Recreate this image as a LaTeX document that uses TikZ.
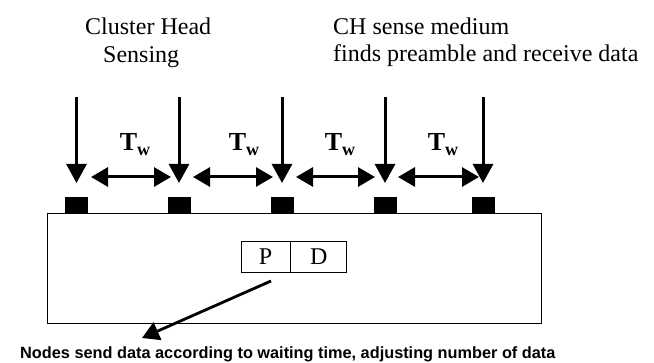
\documentclass[tikz,border=0pt]{standalone}
\usepackage{fontspec}
\setmainfont{Liberation Serif}
\newfontfamily\labelsans{Liberation Sans}
\usetikzlibrary{arrows.meta}
\begin{document}
\begin{tikzpicture}[x=1pt,y=-1pt,
  headtext/.style={font=\fontsize{24}{27}\selectfont,inner sep=0pt,anchor=base west},
  tick/.style={fill=black,draw=none,minimum width=23pt,minimum height=16pt,inner sep=0pt},
  sense/.style={line width=3pt,-{Triangle[width=20pt,length=19pt]}},
  wait/.style={line width=3pt,{Triangle[width=19pt,length=17pt]}-{Triangle[width=19pt,length=17pt]}},
  twlabel/.style={inner sep=0pt,font=\fontsize{26}{26}\selectfont\bfseries},
  cell/.style={draw,line width=0.8pt,minimum height=31pt,inner sep=0pt,font=\fontsize{24}{24}\selectfont},
  pointer/.style={line width=2.8pt,-{Triangle[width=19pt,length=17pt]}}]
\useasboundingbox (0,0) rectangle (654,363);

% captions above the timeline
\node[headtext] (ch1) at (85,35) {Cluster Head};
\node[headtext] (ch2) at (103,63) {Sensing};
\node[headtext] (rx1) at (333,35) {CH sense medium};
\node[headtext] (rx2) at (333,62) {finds preamble and receive data};

% medium and the five sensing instants on it
\node[draw,line width=0.9pt,minimum width=494pt,minimum height=110pt,inner sep=0pt] (medium) at (294,268) {};
\foreach \i/\x in {1/76.5,2/179,3/282,4/385,5/483}{
  \node[tick] (s\i) at (\x,205) {};
  \coordinate (top\i) at (\x,97);
  \coordinate (tip\i) at (\x,183);
  \draw[sense] (top\i) -- (tip\i);
}

% waiting intervals between successive sensing instants
\foreach \i/\a/\b/\c in {1/91/171/135,2/193/273/244,3/296/375/340,4/398/479/443}{
  \coordinate (wa\i) at (\a,177);
  \coordinate (wb\i) at (\b,177);
  \draw[wait] (wa\i) -- (wb\i);
  \node[twlabel] (tw\i) at (\c,145) {T\raisebox{-5pt}{\fontsize{18}{18}\selectfont w}};
}

% preamble + data frame
\node[cell,minimum width=49pt] (P) at (265.5,256.5) {P};
\node[cell,minimum width=56pt,anchor=west] (D) at (P.east) {D};

% note below the medium
\node[inner sep=0pt,anchor=base west,font=\labelsans\bfseries\fontsize{16.3}{16.3}\selectfont] (note) at (20,359) {Nodes send data according to waiting time, adjusting number of data};
\coordinate (from) at (271,281);
\coordinate (to) at (142,338);
\draw[pointer] (from) -- (to);
\end{tikzpicture}
\end{document}
